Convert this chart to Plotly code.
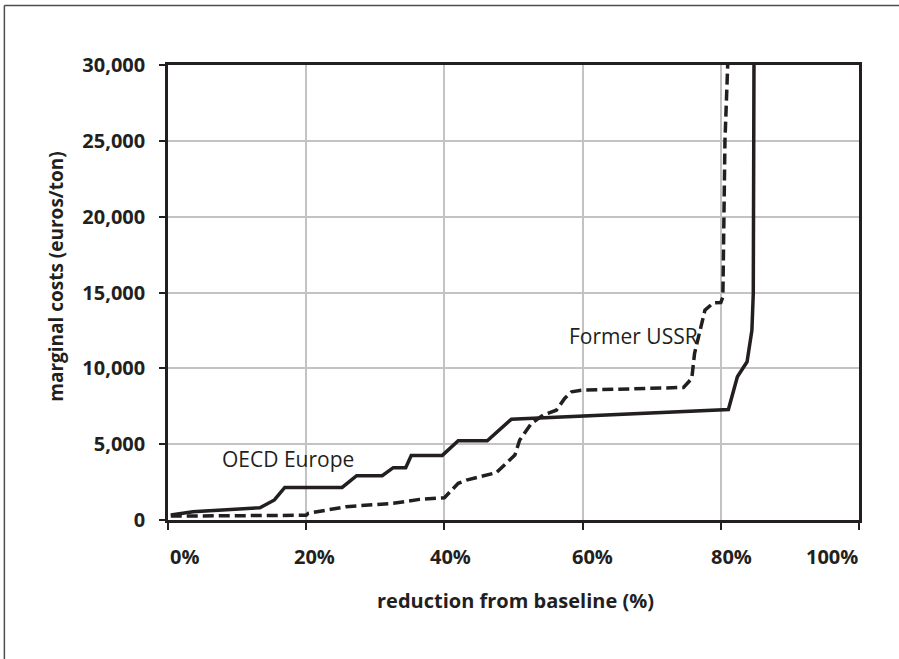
import plotly.graph_objects as go

# reduction from baseline (%) and marginal cost (euros/ton)
oecd_reduction = [0.4, 3.6, 13.3, 15.4, 16.9, 25.2, 27.3, 31.0, 32.6, 34.4, 35.2,
                  39.7, 42.0, 46.2, 49.7, 81.1, 82.4, 83.8, 84.5, 84.7, 84.8]
oecd_cost = [330, 550, 810, 1320, 2150, 2150, 2920, 2920, 3450, 3450, 4250,
             4260, 5220, 5220, 6650, 7290, 9440, 10430, 12510, 14930, 30000]

ussr_reduction = [0.4, 20.0, 20.3, 25.8, 32.6, 36.4, 40.0, 42.0, 43.2, 47.5, 50.2,
                  50.9, 52.6, 54.3, 56.2, 57.4, 58.4, 59.8, 74.6, 75.8, 76.2,
                  77.0, 77.7, 78.9, 80.0, 80.3, 80.4, 80.6, 81.0]
ussr_cost = [260, 310, 440, 880, 1100, 1360, 1470, 2420, 2630, 3120, 4280,
             5270, 6370, 6920, 7240, 8010, 8450, 8560, 8740, 9330, 10980,
             12510, 13830, 14310, 14340, 14710, 20000, 25000, 30000]

x_ticks = [0, 20, 40, 60, 80, 100]
x_tick_labels = ["0%", "20%", "40%", "60%", "80%", "100%"]
y_ticks = [0, 5000, 10000, 15000, 20000, 25000, 30000]
y_tick_labels = ["0", "5,000", "10,000", "15,000", "20,000", "25,000", "30,000"]

INK = "#231f20"
FONT = "Open Sans"

fig = go.Figure()

fig.add_trace(go.Scatter(
    x=ussr_reduction, y=ussr_cost, mode="lines", name="Former USSR",
    line=dict(color=INK, width=3.5, dash="11px,5px"),
))
fig.add_trace(go.Scatter(
    x=oecd_reduction, y=oecd_cost, mode="lines", name="OECD Europe",
    line=dict(color=INK, width=3.5),
))

# series labels
fig.add_annotation(x=17.3, y=4000, text="OECD Europe", showarrow=False,
                   font=dict(family=FONT, size=21, color=INK))
fig.add_annotation(x=67.4, y=12120, text="Former USSR", showarrow=False,
                   font=dict(family=FONT, size=21, color=INK))

# x tick labels sit a little off their ticks in the original
label_shift = [16, 8, 6, 10, 11, -27]
for val, txt, dx in zip(x_ticks, x_tick_labels, label_shift):
    fig.add_annotation(x=val, xref="x", y=0, yref="paper", yanchor="middle",
                       yshift=-36, xshift=dx, text=txt, showarrow=False,
                       font=dict(family=FONT, size=20, color=INK, weight="bold"))

# axis titles
fig.add_annotation(x=0.503, xref="paper", xanchor="center", y=0, yref="paper",
                   yanchor="middle", yshift=-80, text="reduction from baseline (%)",
                   showarrow=False,
                   font=dict(family=FONT, size=20, color=INK, weight="bold"))
fig.add_annotation(x=0, xref="paper", xanchor="center", xshift=-111.5,
                   y=0.5335, yref="paper", yanchor="middle", textangle=-90,
                   text="marginal costs (euros/ton)", showarrow=False,
                   font=dict(family=FONT, size=19, color=INK, weight="bold"))

# thin frame round the figure (left and top only are visible)
fig.add_shape(type="line", xref="paper", yref="paper", x0=-0.2368, x1=-0.2368,
              y0=1.1306, y1=-0.31, line=dict(color="#4d4d4d", width=1.5))
fig.add_shape(type="line", xref="paper", yref="paper", x0=-0.2368, x1=1.06,
              y0=1.1306, y1=1.1306, line=dict(color="#4d4d4d", width=1.5))

fig.update_xaxes(
    range=[0, 100], tickvals=x_ticks, showticklabels=False,
    ticks="outside", ticklen=7, tickwidth=2, tickcolor=INK,
    showline=True, linecolor=INK, linewidth=2.5, mirror=True,
    showgrid=True, gridcolor="#c3c3c3", gridwidth=2, zeroline=False,
)
fig.update_yaxes(
    range=[0, 30000], tickvals=y_ticks, ticktext=y_tick_labels,
    ticks="outside", ticklen=6, tickwidth=2, tickcolor=INK, ticklabelstandoff=10,
    tickfont=dict(family=FONT, size=20, color=INK, weight="bold"),
    showline=True, linecolor=INK, linewidth=2.5, mirror=True,
    showgrid=True, gridcolor="#c3c3c3", gridwidth=2, zeroline=False,
)

fig.update_layout(
    width=899, height=659,
    margin=dict(l=168, r=40, t=65, b=139),
    paper_bgcolor="white", plot_bgcolor="white",
    showlegend=False,
    font=dict(family=FONT, color=INK),
)

# drop the browser's default 8px body margin so the figure sits at 0,0
fig.write_html("out.html", config={"displayModeBar": False},
               post_script="document.body.style.margin='0';")
